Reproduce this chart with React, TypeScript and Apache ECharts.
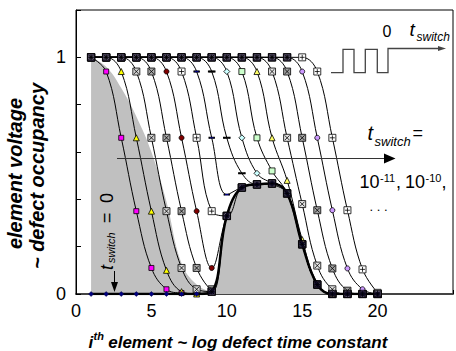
import React, { useEffect, useRef } from "react";
import * as echarts from "echarts";

const FONT = '"Liberation Sans", Arial, sans-serif';

// i-th element (x)
const elements = [1, 2, 3, 4, 5, 6, 7, 8, 9, 10, 11, 12, 13, 14, 15, 16, 17, 18, 19, 20];

// t_switch = 0 (thick curve)
const tSwitch0 = [0, 0, 0, 0, 0, 0, 0, 0, 0.01, 0.33, 0.45, 0.463, 0.467, 0.425, 0.21, 0.04, 0, 0, 0, 0];

// t_switch = 1e-11, 1e-10, ... (one curve each)
const sMagenta = [1, 0.94, 0.66, 0.35, 0.11, 0.02, 0.004, 0.002, 0.01, 0.33, 0.45, 0.463, 0.467, 0.425, 0.21, 0.04, 0, 0, 0, 0];
const sYellow = [1, 1, 0.94, 0.66, 0.35, 0.1, 0.01, 0, 0.01, 0.33, 0.45, 0.463, 0.467, 0.425, 0.21, 0.04, 0, 0, 0, 0];
const sBoxX1 = [1, 1, 1, 0.94, 0.66, 0.35, 0.11, 0.02, 0.01, 0.33, 0.45, 0.463, 0.467, 0.425, 0.21, 0.04, 0, 0, 0, 0];
const sBoxX2 = [1, 1, 1, 1, 0.94, 0.66, 0.35, 0.11, 0.02, 0.33, 0.45, 0.463, 0.467, 0.425, 0.21, 0.04, 0, 0, 0, 0];
const sRed = [1, 1, 1, 1, 1, 0.94, 0.66, 0.35, 0.11, 0.33, 0.45, 0.463, 0.467, 0.425, 0.21, 0.04, 0, 0, 0, 0];
const sBoxPlus1 = [1, 1, 1, 1, 1, 1, 0.94, 0.66, 0.35, 0.33, 0.45, 0.463, 0.467, 0.425, 0.21, 0.04, 0, 0, 0, 0];
const sDash1 = [1, 1, 1, 1, 1, 1, 1, 0.94, 0.66, 0.42, 0.45, 0.463, 0.467, 0.425, 0.21, 0.04, 0, 0, 0, 0];
const sDash2 = [1, 1, 1, 1, 1, 1, 1, 1, 0.94, 0.66, 0.51, 0.463, 0.467, 0.425, 0.21, 0.04, 0, 0, 0, 0];
const sCyan = [1, 1, 1, 1, 1, 1, 1, 1, 1, 0.94, 0.66, 0.51, 0.467, 0.425, 0.21, 0.04, 0, 0, 0, 0];
const sGreen = [1, 1, 1, 1, 1, 1, 1, 1, 1, 1, 0.94, 0.66, 0.52, 0.425, 0.21, 0.04, 0, 0, 0, 0];
const sYellow2 = [1, 1, 1, 1, 1, 1, 1, 1, 1, 1, 1, 0.94, 0.66, 0.48, 0.23, 0.045, 0, 0, 0, 0];
const sBoxX3 = [1, 1, 1, 1, 1, 1, 1, 1, 1, 1, 1, 1, 0.94, 0.66, 0.38, 0.12, 0.02, 0, 0, 0];
const sBoxX4 = [1, 1, 1, 1, 1, 1, 1, 1, 1, 1, 1, 1, 1, 0.94, 0.66, 0.354, 0.108, 0.014, 0, 0];
const sPurple = [1, 1, 1, 1, 1, 1, 1, 1, 1, 1, 1, 1, 1, 1, 0.94, 0.66, 0.354, 0.108, 0.02, 0];
const sBoxPlus2 = [1, 1, 1, 1, 1, 1, 1, 1, 1, 1, 1, 1, 1, 1, 1, 0.94, 0.66, 0.354, 0.104, 0.005];

// grey shaded region boundary
const grayX = [1, 2, 3, 4, 5, 6, 7, 8, 9, 10, 11, 12, 13, 14, 15, 16, 17];
const grayY = [1, 0.96, 0.87, 0.75, 0.6, 0.39, 0.13, 0.04, 0.01, 0.33, 0.45, 0.463, 0.467, 0.425, 0.21, 0.04, 0];

const xTicks = [0, 5, 10, 15, 20];

const BOX_X = "path://M0,0L10,0L10,10L0,10Z M1.5,1.5L8.5,8.5 M8.5,1.5L1.5,8.5";
const BOX_PLUS = "path://M0,0L10,0L10,10L0,10Z M5,1.5L5,8.5 M1.5,5L8.5,5";
const BOX_ALL = "path://M0,0L10,0L10,10L0,10Z M1.5,1.5L8.5,8.5 M8.5,1.5L1.5,8.5 M5,1.5L5,8.5 M1.5,5L8.5,5";
const DASH = "path://M0,0L10,0L10,2L0,2Z";

const curveDefs: [number[], string, any, string][] = [
  [sMagenta, "rect", 5, "#ff00ff"],
  [sYellow, "triangle", 6, "#ffff00"],
  [sBoxX1, BOX_X, 7, "#d4d4d4"],
  [sBoxX2, BOX_X, 7, "#a8a8a8"],
  [sRed, "circle", 5, "#800000"],
  [sBoxPlus1, BOX_PLUS, 7, "#ffffff"],
  [sDash1, DASH, [5, 1.5], "#000080"],
  [sDash2, DASH, [6, 1.5], "#000000"],
  [sCyan, "diamond", 6, "#ccffff"],
  [sGreen, "rect", 6, "#ccffcc"],
  [sYellow2, "triangle", 6, "#ffff66"],
  [sBoxX3, BOX_X, 7, "#e4e4e4"],
  [sBoxX4, BOX_X, 7, "#a0a0a0"],
  [sPurple, "circle", 5, "#cc99ff"],
  [sBoxPlus2, BOX_PLUS, 7, "#ffffff"],
];

function buildOverlap(): number[][] {
  const pts: number[][] = [];
  elements.forEach((x, i) => {
    const counts = new Map<number, number>();
    curveDefs.forEach(([arr]) => counts.set(arr[i], (counts.get(arr[i]) || 0) + 1));
    counts.forEach((c, v) => {
      if (c >= 2) pts.push([x, v]);
    });
  });
  return pts;
}

function txt(text: string, x: number, y: number, size: number, opts: any = {}) {
  return {
    type: "text",
    x,
    y,
    z: 100,
    silent: true,
    style: {
      text,
      fill: opts.fill || "#000",
      fontSize: size,
      fontFamily: FONT,
      fontStyle: opts.italic ? "italic" : "normal",
      fontWeight: opts.bold ? "bold" : "normal",
      align: opts.align || "left",
      verticalAlign: "middle",
      textAlign: opts.align || "left",
      textVerticalAlign: "middle",
    },
  };
}

export default function App() {
  const ref = useRef<HTMLDivElement>(null);
  useEffect(() => {
    document.body.style.margin = "0";
    const chart = echarts.init(ref.current!, null, { renderer: "svg" });
    const lineSeries = curveDefs.map(([arr, symbol, size, fill]) => ({
      type: "line",
      data: elements.map((x, i) => [x, arr[i]]),
      smooth: 0.4,
      symbol,
      symbolSize: size,
      showAllSymbol: true,
      itemStyle: { color: fill, borderColor: "#000", borderWidth: 0.8 },
      lineStyle: { color: "#000", width: 1 },
      emphasis: { disabled: true },
      silent: true,
      z: 3,
    }));
    const option: any = {
      animation: false,
      backgroundColor: "#fff",
      grid: {
        left: 76,
        top: 10,
        right: -2.5,
        bottom: 57,
        show: true,
        borderColor: "#000",
        borderWidth: 1,
        backgroundColor: "transparent",
      },
      xAxis: {
        type: "value",
        min: 0,
        max: 25,
        interval: 5,
        axisLine: { show: true, lineStyle: { color: "#444", width: 2 } },
        axisTick: { show: true, inside: true, length: 4, lineStyle: { color: "#000" } },
        splitLine: { show: false },
        axisLabel: {
          fontSize: 18,
          fontFamily: FONT,
          color: "#000",
          margin: 8,
          formatter: (v: number) => (xTicks.includes(v) ? String(v) : ""),
        },
      },
      yAxis: {
        type: "value",
        min: 0,
        max: 1.2,
        interval: 0.2,
        axisLine: { show: true, lineStyle: { color: "#000", width: 1 } },
        axisTick: { show: true, inside: true, length: 5, lineStyle: { color: "#000" } },
        splitLine: { show: false },
        axisLabel: {
          fontSize: 18,
          fontFamily: FONT,
          color: "#000",
          margin: 10,
          formatter: (v: number) => (Math.abs(v) < 1e-9 ? "0" : Math.abs(v - 1) < 1e-9 ? "1" : ""),
        },
      },
      series: [
        {
          type: "line",
          data: grayX.map((x, i) => [x, grayY[i]]),
          smooth: 0.4,
          symbol: "none",
          lineStyle: { width: 0, color: "#c0c0c0" },
          areaStyle: { color: "#c0c0c0", opacity: 1 },
          silent: true,
          z: 1,
        },
        ...lineSeries,
        {
          type: "line",
          data: elements.map((x, i) => [x, tSwitch0[i]]),
          smooth: 0.4,
          symbol: "diamond",
          symbolSize: 5,
          itemStyle: { color: "#000080", borderColor: "#000040", borderWidth: 0.5 },
          lineStyle: { color: "#000", width: 2.5 },
          silent: true,
          z: 4,
        },
        {
          type: "scatter",
          data: buildOverlap(),
          symbol: BOX_ALL,
          symbolSize: 7.5,
          itemStyle: { color: "rgba(26,16,48,0.88)", borderColor: "#000", borderWidth: 1 },
          silent: true,
          z: 5,
        },
      ],
      graphic: [
        // big arrow
        { type: "line", z: 100, silent: true, shape: { x1: 117, y1: 158.5, x2: 388, y2: 158.5 }, style: { stroke: "#333", lineWidth: 1 } },
        { type: "polygon", z: 100, silent: true, shape: { points: [[384, 153.5], [395.5, 158.5], [384, 163.5]] }, style: { fill: "#000" } },
        // square wave
        {
          type: "polyline",
          z: 100,
          silent: true,
          shape: {
            points: [
              [331, 72.7], [343, 72.7], [343, 49.3], [354, 49.3], [354, 72.7], [365.3, 72.7],
              [365.3, 49.3], [377.3, 49.3], [377.3, 72.7], [388, 72.7], [388, 48.5], [440, 48.5],
            ],
          },
          style: { stroke: "#444", lineWidth: 1.3, fill: null },
        },
        { type: "polygon", z: 100, silent: true, shape: { points: [[438, 46], [446, 48.5], [438, 51]] }, style: { fill: "#444" } },
        txt("0", 387, 31, 16, { align: "center" }),
        txt("t", 409.5, 29.5, 19, { italic: true }),
        txt("switch", 416.5, 37.3, 12, { italic: true }),
        // t_switch =
        txt("t", 367.5, 133, 20, { italic: true }),
        txt("switch", 374.5, 141.5, 13, { italic: true }),
        txt("=", 412.5, 132.5, 18),
        // 10^-11, 10^-10,
        txt("10", 359.5, 182, 18),
        txt("-11", 380, 178, 11),
        txt(",", 396, 182, 18),
        txt("10", 405, 182, 18),
        txt("-10", 425.5, 178, 11),
        txt(",", 441.5, 182, 18),
        txt(". . .", 369.5, 206, 13),
        // rotated t_switch = 0
        {
          type: "group",
          x: 113.5,
          y: 270,
          z: 100,
          rotation: Math.PI / 2,
          silent: true,
          children: [
            txt("t", 0, -6.3, 18, { italic: true }),
            txt("switch", 7, -2.5, 11, { italic: true }),
            txt("=", 47, -6.3, 18),
            txt("0", 67, -6.3, 18),
          ],
        },
        { type: "line", z: 100, silent: true, shape: { x1: 114.5, y1: 271, x2: 114.5, y2: 285 }, style: { stroke: "#000", lineWidth: 1 } },
        { type: "polygon", z: 100, silent: true, shape: { points: [[111, 282], [118, 282], [114.5, 292]] }, style: { fill: "#000" } },
        // x axis title
        txt("i", 88.5, 342, 17, { italic: true, bold: true }),
        txt("th", 93.5, 335.7, 11, { italic: true, bold: true }),
        txt(" element ~ log defect time constant", 103.5, 342, 17, { italic: true, bold: true }),
        // y axis title
        {
          type: "group",
          x: 27,
          y: 175,
          z: 100,
          rotation: Math.PI / 2,
          silent: true,
          children: [
            txt("element voltage", 1.5, -12, 20, { italic: true, bold: true, align: "center" }),
            txt("~ defect occupancy", -1, 10, 20, { italic: true, bold: true, align: "center" }),
          ],
        },
      ],
    };
    chart.setOption(option);
    return () => chart.dispose();
  }, []);
  return (
    <div
      ref={ref}
      style={{ position: "absolute", left: 0, top: 0, width: 456, height: 351 }}
    />
  );
}
